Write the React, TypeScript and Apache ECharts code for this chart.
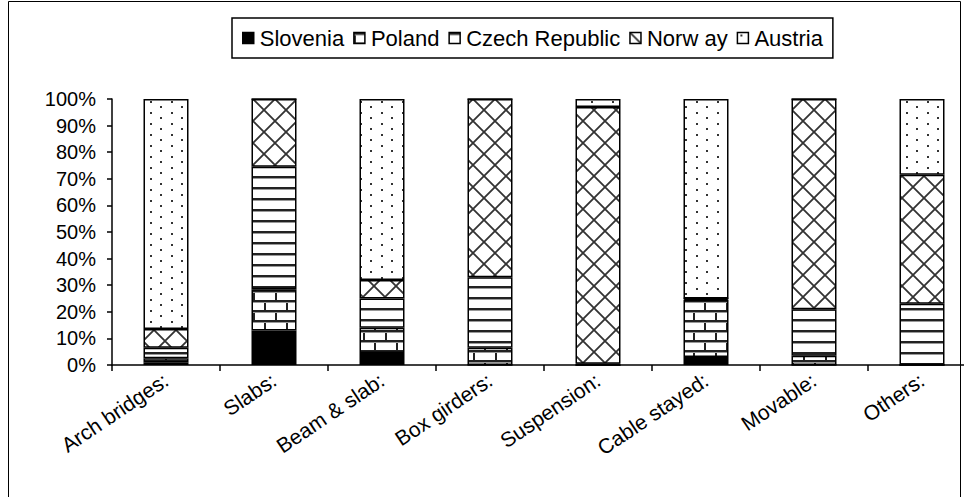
import React, { useEffect, useRef } from 'react';
import * as echarts from 'echarts';

const categories = ['Arch bridges:', 'Slabs:', 'Beam & slab:', 'Box girders:', 'Suspension:', 'Cable stayed:', 'Movable:', 'Others:'];
const seriesNames = ['Slovenia', 'Poland', 'Czech Republic', 'Norw ay', 'Austria'];
const slovenia = [1, 13, 4.5, 0, 0, 3, 0, 0];
const poland = [1.5, 15.5, 9.5, 6.5, 0, 21.5, 3.5, 0];
const czech = [4, 46, 11, 26.5, 0.5, 0.5, 17.5, 23];
const norway = [7, 25.5, 7, 67, 96.5, 0, 79, 48.5];
const austria = [86.5, 0, 68, 0, 3, 75, 0, 28.5];
const yMin = 0;
const yMax = 100;
const yStep = 10;

const FONT = 'Liberation Sans, Arial, sans-serif';

function makePattern(w: number, h: number, draw: (ctx: CanvasRenderingContext2D) => void) {
  const c = document.createElement('canvas');
  c.width = w;
  c.height = h;
  const ctx = c.getContext('2d')!;
  ctx.fillStyle = '#fff';
  ctx.fillRect(0, 0, w, h);
  draw(ctx);
  return { image: c, repeat: 'repeat', imageWidth: w, imageHeight: h } as any;
}

function brick() {
  return makePattern(22, 20, (ctx) => {
    ctx.fillStyle = '#222';
    ctx.fillRect(0, 0, 22, 2);
    ctx.fillRect(0, 10, 22, 2);
    ctx.fillRect(0, 0, 2, 10);
    ctx.fillRect(11, 10, 2, 10);
    ctx.fillStyle = '#999';
    ctx.fillRect(0, 2, 22, 1);
    ctx.fillRect(0, 12, 22, 1);
  });
}

function hlines() {
  return makePattern(4, 11, (ctx) => {
    ctx.fillStyle = '#222';
    ctx.fillRect(0, 0, 4, 2);
    ctx.fillStyle = '#999';
    ctx.fillRect(0, 2, 4, 1);
  });
}

function diamonds() {
  return makePattern(22, 22, (ctx) => {
    ctx.strokeStyle = '#333';
    ctx.lineWidth = 1.8;
    ctx.beginPath();
    ctx.moveTo(0, 0);
    ctx.lineTo(22, 22);
    ctx.moveTo(22, 0);
    ctx.lineTo(0, 22);
    ctx.stroke();
  });
}

function dots() {
  return makePattern(21, 11, (ctx) => {
    ctx.fillStyle = '#333';
    ctx.fillRect(3, 2, 2, 2);
    ctx.fillRect(13, 7, 2, 2);
  });
}

export default function App() {
  const ref = useRef<HTMLDivElement>(null);
  useEffect(() => {
    if (!ref.current) return;
    const chart = echarts.init(ref.current, null, { renderer: 'svg' });
    const fills = ['#000', brick(), hlines(), diamonds(), dots()];
    const datas = [slovenia, poland, czech, norway, austria];
    chart.setOption({
      animation: false,
      backgroundColor: '#fff',
      textStyle: { fontFamily: FONT, color: '#000' },
      graphic: [
        {
          type: 'rect',
          shape: { x: 8.5, y: 1.5, width: 952, height: 520 },
          style: { fill: 'none', stroke: '#000', lineWidth: 1 },
          silent: true,
        },
      ],
      legend: {
        left: 232,
        top: 18,
        padding: [9, 10],
        borderColor: '#000',
        borderWidth: 1.5,
        itemGap: 9,
        itemWidth: 11,
        itemHeight: 11,
        icon: 'rect',
        itemStyle: { borderColor: '#000', borderWidth: 1.5 },
        textStyle: { fontSize: 22, color: '#000', fontFamily: FONT, padding: [0, 0, 0, 1] },
        data: seriesNames,
      },
      grid: { left: 112, top: 99, width: 864, height: 266, containLabel: false },
      xAxis: {
        type: 'category',
        data: categories,
        boundaryGap: true,
        axisLine: { lineStyle: { color: '#000', width: 1.5 } },
        axisTick: { show: true, length: 6, lineStyle: { color: '#000', width: 1.5 } },
        axisLabel: { rotate: 34, interval: 0, margin: 13, fontSize: 21, color: '#000', fontFamily: FONT },
        splitLine: { show: false },
      },
      yAxis: {
        type: 'value',
        min: yMin,
        max: yMax,
        interval: yStep,
        axisLine: { show: true, lineStyle: { color: '#000', width: 1.5 } },
        axisTick: { show: true, length: 5, lineStyle: { color: '#000', width: 1.5 } },
        axisLabel: { formatter: '{value}%', margin: 16, fontSize: 20, color: '#000', fontFamily: FONT },
        splitLine: { show: false },
      },
      series: seriesNames.map((name, i) => ({
        name,
        type: 'bar',
        stack: 'total',
        barWidth: 45,
        data: datas[i],
        itemStyle: { color: fills[i], borderColor: '#000', borderWidth: 1.5 },
        emphasis: { disabled: true },
      })),
    });
    return () => chart.dispose();
  }, []);
  return (
    <div style={{ position: 'absolute', left: 0, top: 0, width: 964, height: 497, overflow: 'hidden', background: '#fff' }}>
      <div ref={ref} style={{ width: 1000, height: 497 }} />
    </div>
  );
}
